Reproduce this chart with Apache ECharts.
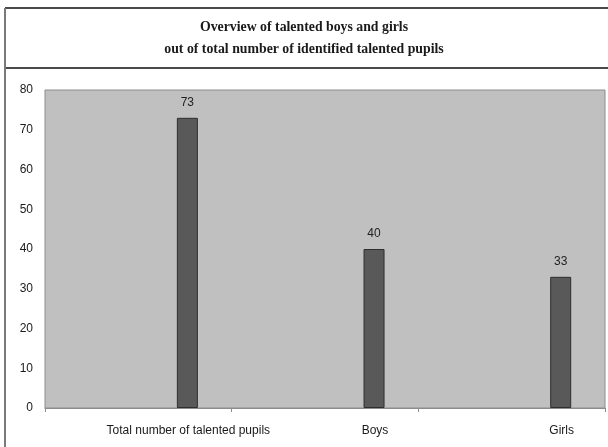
<!DOCTYPE html>
<html>
<head>
<meta charset="utf-8">
<script src="https://cdn.jsdelivr.net/npm/echarts@6/dist/echarts.min.js"></script>
<style>
  html, body { margin: 0; padding: 0; background: #ffffff; }
  #chart { width: 608px; height: 447px; }
</style>
</head>
<body>
<div id="chart"></div>
<script>
// Categories and values
const categories = ['Total number of talented pupils', 'Boys', 'Girls'];
const pupilCounts = [73, 40, 33];
const yTicks = { min: 0, max: 80, interval: 10 };

const chart = echarts.init(document.getElementById('chart'), null, { renderer: 'canvas' });

// Empty leading series: keeps each visible bar right of its band centre
const spacer = categories.map(() => '-');

chart.setOption({
  backgroundColor: '#ffffff',
  animation: false,
  title: {
    text: 'Overview of talented boys and girls\nout of total number of identified talented pupils',
    left: 'center',
    top: 11,
    textStyle: {
      fontFamily: 'Liberation Serif',
      fontSize: 13.8,
      fontWeight: 'bold',
      lineHeight: 22,
      color: '#1a1a1a'
    }
  },
  graphic: [
    // frame around title and chart
    { type: 'line', shape: { x1: 5, y1: 8, x2: 608, y2: 8 }, style: { stroke: '#4a4a4a', lineWidth: 2 } },
    { type: 'line', shape: { x1: 5, y1: 68, x2: 608, y2: 68 }, style: { stroke: '#4a4a4a', lineWidth: 2 } },
    { type: 'line', shape: { x1: 5, y1: 8, x2: 5, y2: 447 }, style: { stroke: '#7a7a7a', lineWidth: 2 } }
  ],
  grid: {
    left: 45, right: 3, top: 90, bottom: 39,
    show: true,
    backgroundColor: '#c0c0c0',
    borderColor: '#8c8c8c',
    borderWidth: 1
  },
  xAxis: {
    type: 'category',
    data: categories,
    axisLine: { show: true, lineStyle: { color: '#8c8c8c', width: 1 } },
    axisTick: { show: true, length: 4, lineStyle: { color: '#8c8c8c' } },
    axisLabel: {
      interval: 0,
      color: '#1a1a1a',
      fontFamily: 'Liberation Sans',
      fontSize: 12,
      margin: 17,
      padding: [0, 0, 0, 100]
    },
    splitLine: { show: false }
  },
  yAxis: {
    type: 'value',
    min: yTicks.min,
    max: yTicks.max,
    interval: yTicks.interval,
    axisLine: { show: false },
    axisTick: { show: false },
    splitLine: { show: false },
    axisLabel: {
      color: '#1a1a1a',
      fontFamily: 'Liberation Sans',
      fontSize: 12,
      margin: 12
    }
  },
  series: [
    {
      type: 'bar',
      data: spacer,
      barWidth: 21,
      barGap: '367%',
      silent: true
    },
    {
      type: 'bar',
      data: pupilCounts,
      barWidth: 21,
      itemStyle: { color: '#595959', borderColor: '#2e2e2e', borderWidth: 1 },
      label: {
        show: true,
        position: 'top',
        distance: 9,
        color: '#222222',
        fontFamily: 'Liberation Sans',
        fontSize: 12
      }
    }
  ]
});
</script>
</body>
</html>
